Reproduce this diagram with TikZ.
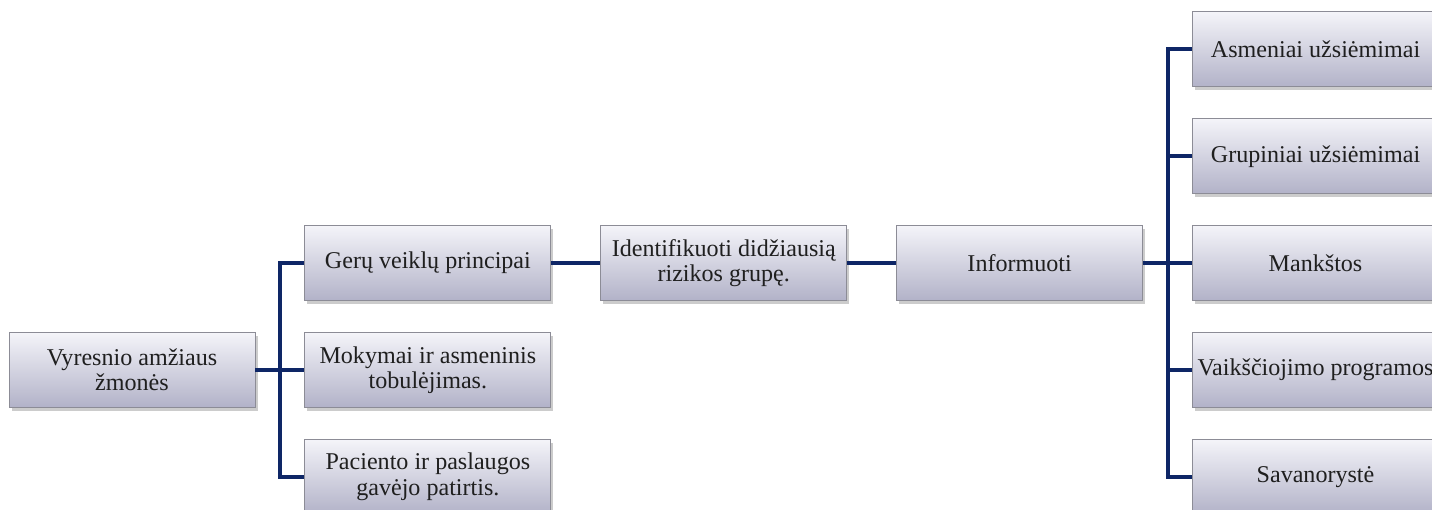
\documentclass[tikz,border=0pt]{standalone}
\usepackage{fontspec}
\setmainfont{Liberation Serif}
\newfontfamily\boxfont{Liberation Serif}
\usetikzlibrary{positioning, shadows, calc}
\definecolor{linkNavy}{RGB}{14,38,102}
\definecolor{boxTop}{RGB}{244,244,249}
\definecolor{boxBottom}{RGB}{178,178,200}
\definecolor{boxEdge}{RGB}{140,140,150}
\tikzset{
    font=\boxfont\fontsize{13.7}{14.4}\selectfont,
    % Shapes
    box/.style={rectangle, draw=boxEdge, line width=0.5pt,
                top color=boxTop, bottom color=boxBottom,
                minimum width=4.92cm, minimum height=1.5cm,
                inner sep=1pt, align=center, text=black!88,
                drop shadow={shadow xshift=0.05cm, shadow yshift=-0.07cm, opacity=0.4}},
    % Connectors
    link/.style={line width=0.08cm, linkNavy}
}
\begin{document}
\begin{tikzpicture}[node distance=0.62cm and 0.98cm]

\useasboundingbox (0,0) rectangle (28.64,-10.2);

\node[box] (root) at (2.64,-7.40) {Vyresnio amžiaus\\žmonės};

\node[box, right=of root] (mok) {Mokymai ir asmeninis\\tobulėjimas.};
\node[box, above=of mok] (geru) {Gerų veiklų principai};
\node[box, below=of mok] (pac) {Paciento ir paslaugos\\gavėjo patirtis.};

\node[box, right=of geru] (ident) {Identifikuoti didžiausią\\rizikos grupę.};
\node[box, right=of ident] (info) {Informuoti};

\node[box, right=of info] (mank) {Mankštos};
\node[box, above=of mank] (grup) {Grupiniai užsiėmimai};
\node[box, above=of grup] (asm) {Asmeniai užsiėmimai};
\node[box, below=of mank] (vaik) {Vaikščiojimo programos};
\node[box, below=of vaik] (sav) {Savanorystė};

\draw[link] (root.east) -- (mok.west);
\draw[link] (root.east) -- ++(0.49,0) coordinate (busL) |- (geru.west);
\draw[link] (busL) |- (pac.west);

\draw[link] (geru) -- (ident);
\draw[link] (ident) -- (info);

\draw[link] (info.east) -- (mank.west);
\draw[link] (info.east) -- ++(0.49,0) coordinate (busR) |- (asm.west);
\draw[link] (busR) |- (grup.west);
\draw[link] (busR) |- (vaik.west);
\draw[link] (busR) |- (sav.west);

\end{tikzpicture}
\end{document}
